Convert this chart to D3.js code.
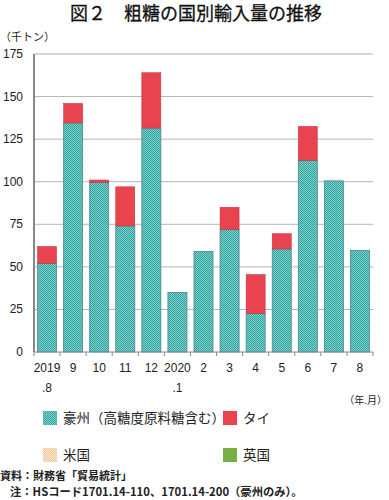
<!DOCTYPE html>
<html>
<head>
<meta charset="utf-8">
<script src="https://cdn.jsdelivr.net/npm/d3@7"></script>
<style>
body { margin: 0; background: #fff; }
svg { font-family: "Noto Sans CJK JP", sans-serif; }
.num { font-family: "Liberation Sans", Arial, sans-serif; }
</style>
</head>
<body>
<svg id="canvas" width="389" height="500"></svg>
<script>
// months along the x axis
let months = ['2019', '9', '10', '11', '12', '2020', '2', '3', '4', '5', '6', '7', '8']
let subLabels = ['.8', '', '', '', '', '.1', '', '', '', '', '', '', '']

// imports, thousand tonnes
let australia = [52, 134.5, 99.5, 74, 131.5, 35, 59, 72, 22.5, 60.5, 112.5, 100.5, 59.7]
let thailand = [10, 11.5, 1.5, 23, 32.5, 0, 0, 13, 23, 9, 20, 0, 0]
let usa = [0, 0, 0, 0, 0, 0, 0, 0, 0, 0, 0, 0, 0]
let uk = [0, 0, 0, 0, 0, 0, 0, 0, 0, 0, 0, 0, 0]

let yTicks = [0, 25, 50, 75, 100, 125, 150, 175]

let canvas = d3.select('#canvas')

let margin = { left: 34, right: 373, top: 54, bottom: 352 }

let x = d3.scaleBand()
    .domain(d3.range(months.length))
    .range([margin.left, margin.right])
    .paddingInner(0.27)
    .paddingOuter(0.135)

let y = d3.scaleLinear()
    .domain([0, 175])
    .range([margin.bottom, margin.top])

// patterns
let defs = canvas.append('defs')
let pat = defs.append('pattern')
    .attr('id', 'teal')
    .attr('width', 2).attr('height', 2)
    .attr('patternUnits', 'userSpaceOnUse')
pat.append('rect').attr('width', 2).attr('height', 2).attr('fill', '#70d4d0')
pat.append('rect').attr('width', 1).attr('height', 1).attr('fill', '#409e9a')
pat.append('rect').attr('x', 1).attr('y', 1).attr('width', 1).attr('height', 1).attr('fill', '#409e9a')

let pat2 = defs.append('pattern')
    .attr('id', 'peach')
    .attr('width', 2).attr('height', 2)
    .attr('patternUnits', 'userSpaceOnUse')
pat2.append('rect').attr('width', 2).attr('height', 2).attr('fill', '#fbe6cc')
pat2.append('rect').attr('width', 1).attr('height', 1).attr('fill', '#f0c99c')
pat2.append('rect').attr('x', 1).attr('y', 1).attr('width', 1).attr('height', 1).attr('fill', '#f0c99c')

// title
canvas.append('text')
    .attr('x', 196).attr('y', 20)
    .attr('text-anchor', 'middle')
    .attr('font-size', 18)
    .attr('fill', '#111')
    .attr('stroke', '#111')
    .attr('stroke-width', 0.3)
    .text('図２　粗糖の国別輸入量の推移')

canvas.append('text')
    .attr('x', 0).attr('y', 41)
    .attr('font-size', 11)
    .attr('fill', '#222')
    .text('（千トン）')

// gridlines
canvas.selectAll('.grid')
    .data(yTicks.filter(d => d > 0))
    .enter()
    .append('line')
    .attr('x1', margin.left).attr('x2', margin.right)
    .attr('y1', d => y(d)).attr('y2', d => y(d))
    .attr('stroke', d => d === 175 ? '#d8d8d8' : '#b5b5b5')
    .attr('stroke-width', d => d === 175 ? 2 : 1)

// y axis labels
canvas.selectAll('.ylab')
    .data(yTicks)
    .enter()
    .append('text')
    .attr('class', 'num')
    .attr('x', 23)
    .attr('y', d => y(d) + 4)
    .attr('text-anchor', 'end')
    .attr('font-size', 12)
    .attr('fill', '#222')
    .text(d => d)

// bars
let stack = months.map((m, i) => ({ i: i, au: australia[i], th: thailand[i], us: usa[i], uk: uk[i] }))

canvas.selectAll('.au')
    .data(stack)
    .enter()
    .append('rect')
    .attr('x', d => x(d.i))
    .attr('width', x.bandwidth())
    .attr('y', d => y(d.au))
    .attr('height', d => y(0) - y(d.au))
    .attr('fill', 'url(#teal)')
    .attr('stroke', '#4a8a88')
    .attr('stroke-width', 0.8)

canvas.selectAll('.th')
    .data(stack.filter(d => d.th > 0))
    .enter()
    .append('rect')
    .attr('x', d => x(d.i))
    .attr('width', x.bandwidth())
    .attr('y', d => y(d.au + d.th))
    .attr('height', d => y(d.au) - y(d.au + d.th))
    .attr('fill', '#e8434f')
    .attr('stroke', '#b8333d')
    .attr('stroke-width', 0.5)

// axes lines
canvas.append('line')
    .attr('x1', margin.left).attr('x2', margin.left)
    .attr('y1', margin.top).attr('y2', margin.bottom)
    .attr('stroke', '#888').attr('stroke-width', 2)

canvas.append('line')
    .attr('x1', margin.left).attr('x2', margin.right)
    .attr('y1', margin.bottom).attr('y2', margin.bottom)
    .attr('stroke', '#888').attr('stroke-width', 1)

let step = x.step()
canvas.selectAll('.xtick')
    .data(d3.range(months.length + 1))
    .enter()
    .append('line')
    .attr('x1', d => margin.left + x.paddingOuter() * step - x.paddingInner() * step / 2 + d * step)
    .attr('x2', d => margin.left + x.paddingOuter() * step - x.paddingInner() * step / 2 + d * step)
    .attr('y1', margin.bottom).attr('y2', margin.bottom + 4)
    .attr('stroke', '#888')

canvas.selectAll('.xlab')
    .data(months)
    .enter()
    .append('text')
    .attr('class', 'num')
    .attr('x', (d, i) => x(i) + x.bandwidth() / 2)
    .attr('y', 372)
    .attr('text-anchor', 'middle')
    .attr('font-size', 12)
    .attr('fill', '#222')
    .text(d => d)

canvas.selectAll('.xsub')
    .data(subLabels)
    .enter()
    .append('text')
    .attr('class', 'num')
    .attr('x', (d, i) => x(i) + x.bandwidth() / 2)
    .attr('y', 392)
    .attr('text-anchor', 'middle')
    .attr('font-size', 12)
    .attr('fill', '#222')
    .text(d => d)

canvas.append('text')
    .attr('x', 387).attr('y', 404)
    .attr('text-anchor', 'end')
    .attr('font-size', 10)
    .attr('fill', '#222')
    .text('（年.月）')

// legend
let legend = [
    { name: '豪州（高糖度原料糖含む）', fill: 'url(#teal)', lx: 43, ly: 411 },
    { name: 'タイ', fill: '#e8434f', lx: 223, ly: 411 },
    { name: '米国', fill: 'url(#peach)', lx: 43, ly: 448 },
    { name: '英国', fill: '#76b043', lx: 223, ly: 448 }
]

let lg = canvas.selectAll('.leg')
    .data(legend)
    .enter()
    .append('g')
    .attr('transform', d => 'translate(' + d.lx + ',' + d.ly + ')')

lg.append('rect')
    .attr('width', 14).attr('height', 14)
    .attr('fill', d => d.fill)

lg.append('text')
    .attr('x', 20).attr('y', 12)
    .attr('font-size', 13.5)
    .attr('fill', '#222')
    .text(d => d.name)

// notes
canvas.append('text')
    .attr('x', 0).attr('y', 480)
    .attr('font-size', 11)
    .attr('font-weight', 'bold')
    .attr('fill', '#222')
    .text('資料：財務省「貿易統計」')

canvas.append('text')
    .attr('x', 10).attr('y', 496)
    .attr('font-size', 11.3)
    .attr('font-weight', 'bold')
    .attr('fill', '#222')
    .text('注：HSコード1701.14-110、1701.14-200（豪州のみ）。')
</script>
</body>
</html>
